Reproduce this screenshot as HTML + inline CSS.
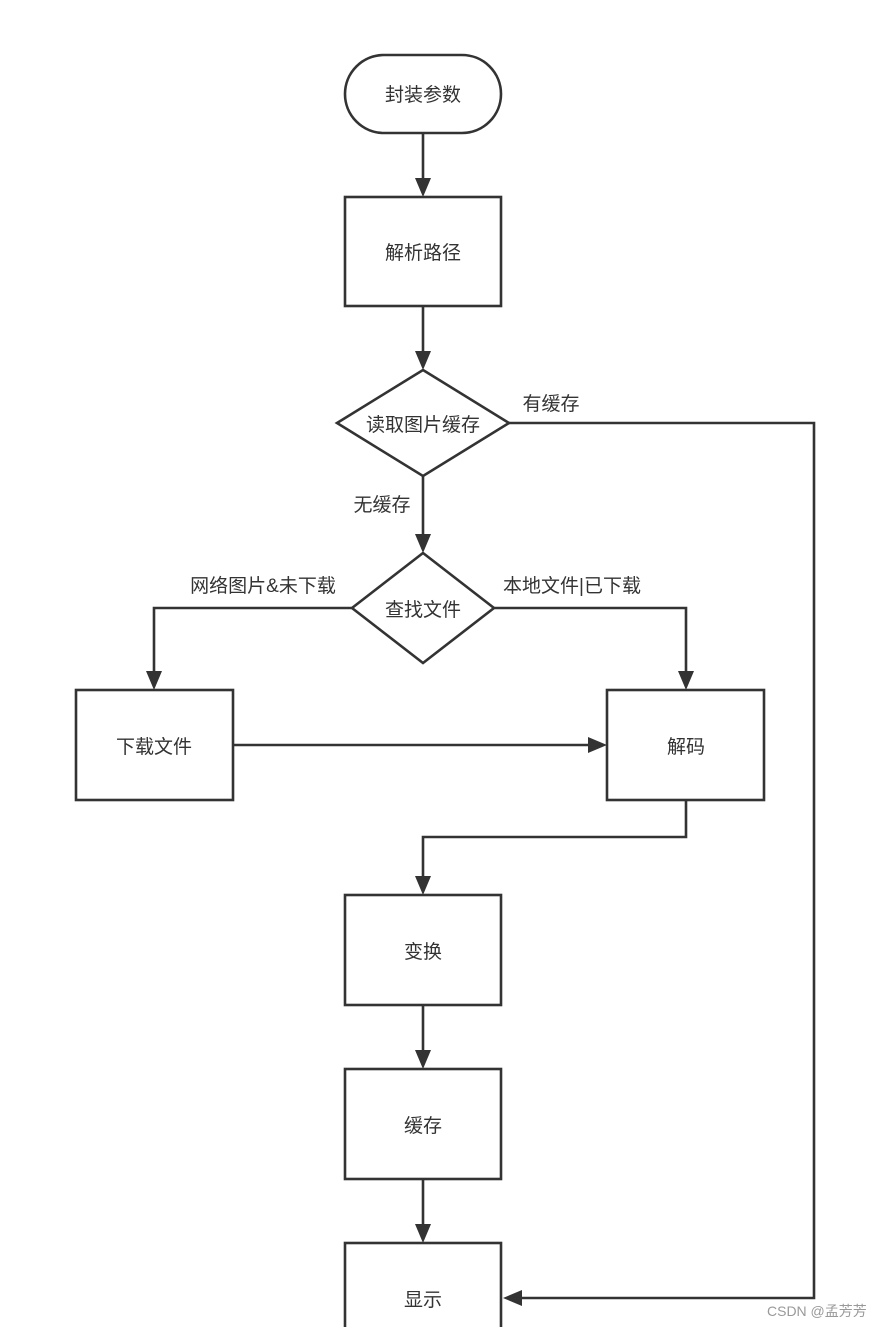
<!DOCTYPE html>
<html><head><meta charset="utf-8"><style>
html,body{margin:0;padding:0;background:#fff;}
svg{display:block;}
text{font-family:"Liberation Sans","Noto Sans CJK SC",sans-serif;fill:#333;font-size:19px;}
</style></head><body>
<svg width="882" height="1327" viewBox="0 0 882 1327" xmlns="http://www.w3.org/2000/svg">
<defs><marker id="a" markerWidth="10" markerHeight="10" refX="9" refY="5" orient="auto" markerUnits="userSpaceOnUse"><path d="M0,0 L0,0 L18,0" fill="none"/></marker></defs>
<g stroke="#333" stroke-width="2.6" fill="#fff">
<rect x="345" y="55" width="156" height="78" rx="39"/>
<rect x="345" y="197" width="156" height="109"/>
<polygon points="423,370 509,423 423,476 337,423"/>
<polygon points="423,553 494,608 423,663 352,608"/>
<rect x="76" y="690" width="157" height="110"/>
<rect x="607" y="690" width="157" height="110"/>
<rect x="345" y="895" width="156" height="110"/>
<rect x="345" y="1069" width="156" height="110"/>
<rect x="345" y="1243" width="156" height="110"/>
<g fill="none">
<line x1="423" y1="133" x2="423" y2="180"/>
<line x1="423" y1="306" x2="423" y2="353"/>
<polyline points="509,423 814,423 814,1298 520,1298"/>
<line x1="423" y1="476" x2="423" y2="536"/>
<polyline points="352,608 154,608 154,673"/>
<polyline points="494,608 686,608 686,673"/>
<line x1="233" y1="745" x2="590" y2="745"/>
<polyline points="686,800 686,837 423,837 423,878"/>
<line x1="423" y1="1005" x2="423" y2="1052"/>
<line x1="423" y1="1179" x2="423" y2="1226"/>
</g>
</g>
<g fill="#333">
<polygon points="415,178 431,178 423,197"/>
<polygon points="415,351 431,351 423,370"/>
<polygon points="415,534 431,534 423,553"/>
<polygon points="146,671 162,671 154,690"/>
<polygon points="678,671 694,671 686,690"/>
<polygon points="588,737 588,753 607,745"/>
<polygon points="415,876 431,876 423,895"/>
<polygon points="415,1050 431,1050 423,1069"/>
<polygon points="415,1224 431,1224 423,1243"/>
<polygon points="522,1290 522,1306 503,1298"/>
</g>
<g text-anchor="middle">
<text x="423" y="101">封装参数</text>
<text x="423" y="259">解析路径</text>
<text x="423" y="431">读取图片缓存</text>
<text x="423" y="616">查找文件</text>
<text x="154" y="753">下载文件</text>
<text x="686" y="753">解码</text>
<text x="423" y="958">变换</text>
<text x="423" y="1132">缓存</text>
<text x="423" y="1306">显示</text>
<text x="551" y="410">有缓存</text>
<text x="382" y="511">无缓存</text>
<text x="263" y="592">网络图片&amp;未下载</text>
<text x="572" y="592">本地文件|已下载</text>
</g>
<text x="767" y="1316" style="font-size:14px;fill:#999">CSDN @孟芳芳</text>
</svg>
</body></html>
